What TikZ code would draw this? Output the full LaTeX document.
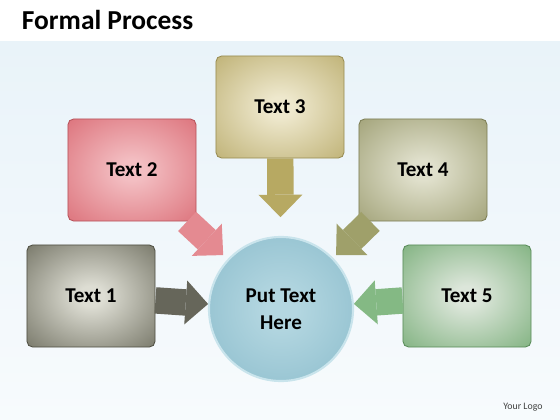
\documentclass[tikz,border=0pt]{standalone}
\usepackage{fontspec}
\setmainfont{Carlito}
\usetikzlibrary{arrows.meta}

\definecolor{bgblue}{HTML}{E9F3F9}
\definecolor{oneout}{HTML}{5C5C4C}
\definecolor{onein}{HTML}{DDDDD3}
\definecolor{twoout}{HTML}{D65E68}
\definecolor{twoin}{HTML}{F3BEC2}
\definecolor{threeout}{HTML}{B2A35E}
\definecolor{threein}{HTML}{EEE8CD}
\definecolor{fourout}{HTML}{919262}
\definecolor{fourin}{HTML}{E0E0CC}
\definecolor{fiveout}{HTML}{68A468}
\definecolor{fivein}{HTML}{DCE6DA}
\definecolor{hubout}{HTML}{80B5C6}
\definecolor{hubin}{HTML}{B4D7E1}
\definecolor{hubedge}{HTML}{C9E4EC}
\definecolor{arrone}{HTML}{66665A}
\definecolor{arrtwo}{HTML}{E48A91}
\definecolor{arrthree}{HTML}{B7A962}
\definecolor{arrfour}{HTML}{9FA06A}
\definecolor{arrfive}{HTML}{84B984}
\colorlet{softin}{white}
\colorlet{softout}{gray}
\pgfdeclareradialshading[softin,softout]{soft}{\pgfpointorigin}{color(0bp)=(softin); color(5bp)=(softin); color(45bp)=(softout); color(72bp)=(softout)}

\begin{document}
\begin{tikzpicture}[x=0.025cm,y=-0.025cm,
	box/.style 2 args={rounded corners=4pt, minimum width=3.2cm, minimum height=2.55cm,
		/utils/exec={\colorlet{softout}{#1}\colorlet{softin}{#2}}, shading=soft,
		draw=#1!85!black, line width=0.6pt,
		font=\fontsize{15}{18}\selectfont\bfseries},
	fat/.style={draw=#1, line width=0.66cm,
		-{Triangle[width=1.1cm,length=0.56cm,line width=0pt]}}]
	\useasboundingbox (0,0) rectangle (560,420);
	% background
	\shade[top color=bgblue, bottom color=bgblue!35] (0,42) rectangle (560,420);
	\node[anchor=base west, font=\fontsize{19.5}{22}\selectfont\bfseries] (title) at (17,30) {Formal Process};
	% boxes
	\node[box={oneout}{onein}] (t1) at (91,296) {Text 1};
	\node[box={twoout}{twoin}] (t2) at (132,170) {Text 2};
	\node[box={threeout}{threein}] (t3) at (280,107) {Text 3};
	\node[box={fourout}{fourin}] (t4) at (423,170) {Text 4};
	\node[box={fiveout}{fivein}] (t5) at (467,296) {Text 5};
	% centre
	\node[circle, minimum size=3.6cm, /utils/exec={\colorlet{softout}{hubout}\colorlet{softin}{hubin}},
		shading=soft, draw=hubedge, line width=1.5pt, align=center,
		font=\fontsize{15}{19}\selectfont\bfseries] (hub) at (281,309) {Put Text\\Here};
	% arrows
	\draw[fat=arrone] (t1) -- (hub);
	\draw[fat=arrtwo, shorten >=0.15cm] (t2) -- (hub);
	\draw[fat=arrthree, shorten >=0.47cm] (t3) -- (hub);
	\draw[fat=arrfour, shorten >=0.1cm] (t4) -- (hub);
	\draw[fat=arrfive] (t5) -- (hub);
	\node[font=\fontsize{7}{8}\selectfont, text=black!75] (logo) at (523,407) {Your Logo};
\end{tikzpicture}
\end{document}
